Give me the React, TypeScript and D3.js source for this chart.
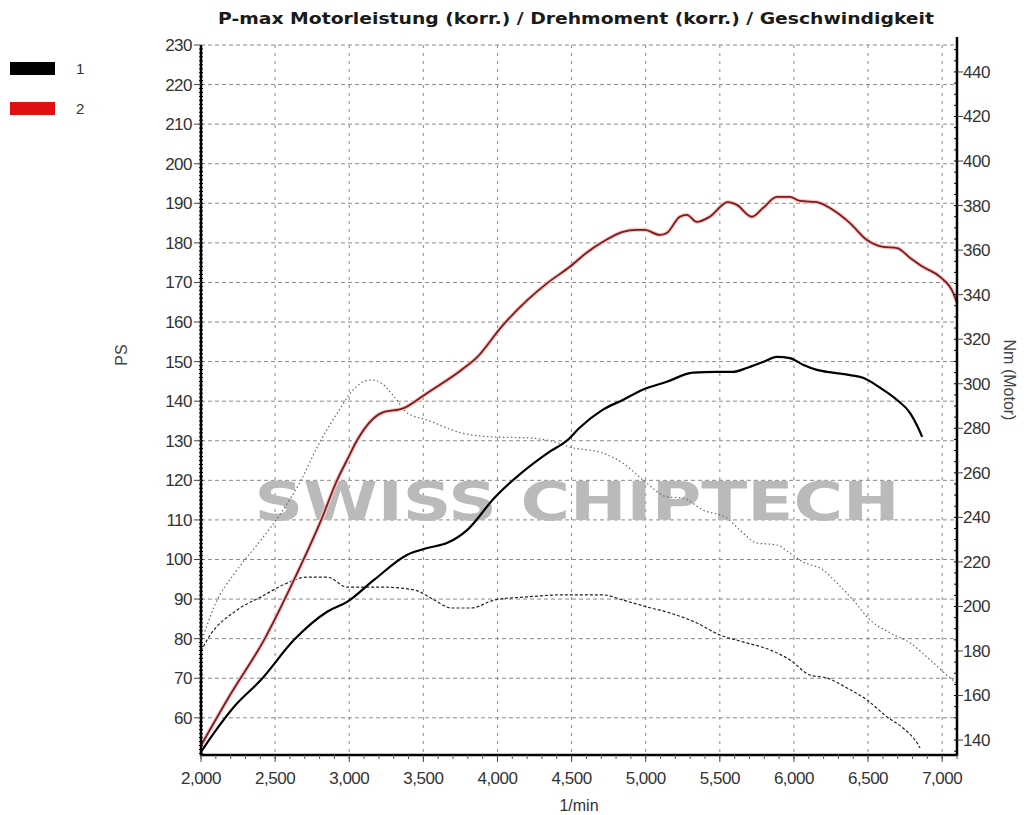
import React from 'react';
import * as d3 from 'd3';

// x axis / tick labels
const rpmTicks = [2000, 2500, 3000, 3500, 4000, 4500, 5000, 5500, 6000, 6500, 7000];
const psTicks = [60, 70, 80, 90, 100, 110, 120, 130, 140, 150, 160, 170, 180, 190, 200, 210, 220, 230];
const nmTicks = [140, 160, 180, 200, 220, 240, 260, 280, 300, 320, 340, 360, 380, 400, 420, 440];
const legendNames = ['1', '2'];

// run 1 (black) power, PS
const powerRpm1 = [2000, 2088, 2223, 2405, 2628, 2851, 2986, 3169, 3392, 3527, 3662, 3797, 3980, 4162, 4338, 4473, 4554, 4709, 4845, 4980, 5142, 5318, 5480, 5588, 5682, 5791, 5885, 5973, 6061, 6155, 6264, 6378, 6466, 6581, 6696, 6784, 6838, 6865];
const power1 = [51.4, 56.2, 62.8, 69.6, 79.7, 86.8, 89.3, 94.9, 101.2, 102.9, 104.2, 107.5, 115.6, 121.9, 126.9, 130.2, 133.3, 137.8, 140.3, 142.9, 144.9, 147.2, 147.4, 147.4, 148.4, 149.9, 151.2, 150.9, 149.2, 147.9, 147.2, 146.6, 145.9, 143.4, 140.3, 137, 133.3, 131];

// run 2 (red) power, PS
const powerRpm2 = [2000, 2200, 2426, 2628, 2811, 2919, 2986, 3054, 3216, 3372, 3527, 3757, 3865, 4027, 4203, 4338, 4486, 4601, 4709, 4845, 4939, 4993, 5095, 5142, 5230, 5277, 5345, 5432, 5554, 5615, 5716, 5791, 5885, 5973, 6041, 6155, 6264, 6378, 6493, 6601, 6696, 6784, 6872, 6986, 7074, 7100];
const power2 = [53, 66, 79.7, 94.9, 110, 120.1, 125.2, 130.2, 137, 138.3, 142.1, 147.9, 151.2, 158.8, 165.6, 169.9, 173.9, 177.5, 180.2, 182.8, 183.3, 183.3, 182, 182.5, 186.6, 187.1, 185.3, 186.6, 190.3, 189.6, 186.6, 188.8, 191.6, 191.6, 190.6, 190.3, 188.3, 185, 180.7, 179, 178.7, 176.2, 173.9, 171.4, 167.4, 164.8];

// run 1 torque, Nm (dashed)
const torqueRpm1 = [2000, 2041, 2243, 2405, 2581, 2716, 2851, 2986, 3216, 3439, 3574, 3689, 3824, 3980, 4203, 4432, 4709, 4845, 5007, 5162, 5345, 5500, 5655, 5838, 5973, 6108, 6223, 6358, 6493, 6628, 6736, 6831, 6851];
const torque1 = [180, 185, 198.4, 204.3, 210.5, 213.2, 213.2, 208.7, 208.7, 207.4, 202.9, 199.3, 199.3, 202.9, 204.3, 205.2, 205.2, 202.9, 199.8, 197.1, 192.6, 187.2, 184.1, 180.5, 176, 169.2, 167.9, 163.4, 158, 150.4, 145.4, 138.7, 136.5];

// run 2 torque, Nm (dotted)
const torqueRpm2 = [2000, 2088, 2243, 2405, 2540, 2676, 2784, 2946, 3014, 3149, 3216, 3304, 3392, 3527, 3757, 3980, 4203, 4385, 4486, 4709, 4845, 5007, 5142, 5250, 5385, 5547, 5635, 5750, 5885, 5973, 6061, 6196, 6291, 6399, 6514, 6649, 6784, 6919, 7054, 7100];
const torque2 = [183.6, 199.8, 216.4, 229.9, 242, 256.8, 271.6, 289.6, 296.3, 301.7, 300.3, 294.1, 286.9, 283.7, 277.9, 276.1, 275.7, 273.9, 271.6, 268.9, 264.4, 255.4, 249.2, 248.7, 243.3, 239.7, 234.3, 228.5, 227.6, 224, 220, 216.4, 210.5, 202.9, 193.9, 188.1, 183.6, 176, 167.9, 165.5];

const W = 1028;
const H = 815;
const left = 201;
const right = 957;
const top = 45;
const bottom = 755;
const FONT = "'Liberation Sans', Arial, sans-serif";

export default function App() {
  const x = d3.scaleLinear().domain([2000, 7100]).range([left, right]);
  const yPS = d3.scaleLinear().domain([50.6, 230]).range([bottom, top]);
  const yNm = d3.scaleLinear().domain([133.3, 452.1]).range([bottom, top]);

  const lineOf = (rpm: number[], vals: number[], y: d3.ScaleLinear<number, number>) =>
    d3.line<number>()
      .x((_, i) => x(rpm[i]))
      .y(v => y(v))
      .curve(d3.curveMonotoneX)(vals) || '';

  const minorRpm = d3.range(2000, 7101, 100);
  const minorPS = d3.range(51, 230, 1);
  const minorNm = d3.range(135, 452, 5);

  return (
    <svg width={W} height={H} style={{ position: 'absolute', left: 0, top: 0, background: '#fff' }} fontFamily={FONT}>
      {/* title */}
      <text x={576} y={24} textAnchor="middle" fontSize={15.5} fontWeight="bold" fill="#1a1a1a"
        textLength={716} lengthAdjust="spacingAndGlyphs" fontFamily="'DejaVu Sans', sans-serif">
        P-max Motorleistung (korr.) / Drehmoment (korr.) / Geschwindigkeit
      </text>

      {/* legend */}
      <rect x={10} y={62} width={45} height={13} fill="#000" />
      <rect x={10} y={102} width={45} height={13} fill="#e01010" />
      <text x={76} y={74} fontSize={15} fill="#333">{legendNames[0]}</text>
      <text x={76} y={114} fontSize={15} fill="#333">{legendNames[1]}</text>

      {/* grid */}
      {psTicks.map(t => (
        <line key={'gh' + t} x1={left} x2={right} y1={yPS(t)} y2={yPS(t)}
          stroke="#8a8a8a" strokeWidth={1} strokeDasharray="4 3" />
      ))}
      {rpmTicks.slice(1).map(t => (
        <line key={'gv' + t} x1={x(t)} x2={x(t)} y1={top} y2={bottom}
          stroke="#8a8a8a" strokeWidth={1} strokeDasharray="3 5" />
      ))}

      {/* watermark */}
      <text x={577} y={520} textAnchor="middle" fontSize={54} fontWeight="bold" fill="#bababa"
        textLength={645} lengthAdjust="spacingAndGlyphs" fontFamily="'DejaVu Sans', sans-serif">
        SWISS CHIPTECH
      </text>

      {/* torque curves */}
      <path d={lineOf(torqueRpm2, torque2, yNm)} fill="none" stroke="#666" strokeWidth={1.2} strokeDasharray="1.5 2.5" />
      <path d={lineOf(torqueRpm1, torque1, yNm)} fill="none" stroke="#222" strokeWidth={1.2} strokeDasharray="3 2" />

      {/* power curves */}
      <path d={lineOf(powerRpm2, power2, yPS)} fill="none" stroke="#f5c6c6" strokeWidth={4} />
      <path d={lineOf(powerRpm2, power2, yPS)} fill="none" stroke="#7e1a1a" strokeWidth={1.8} />
      <path d={lineOf(powerRpm1, power1, yPS)} fill="none" stroke="#000" strokeWidth={2.2} />

      {/* axes */}
      <line x1={left} x2={left} y1={top} y2={bottom + 1} stroke="#000" strokeWidth={2.5} />
      <line x1={left} x2={right + 1} y1={bottom} y2={bottom} stroke="#000" strokeWidth={2.5} />
      <line x1={right} x2={right} y1={top - 8} y2={bottom + 1} stroke="#000" strokeWidth={2.5} />

      {/* left ticks */}
      {minorPS.map(t => (
        <line key={'mp' + t} x1={left - 2} x2={left + 2} y1={yPS(t)} y2={yPS(t)} stroke="#000" strokeWidth={1} />
      ))}
      {psTicks.map(t => (
        <g key={'lp' + t}>
          <line x1={left - 7} x2={left} y1={yPS(t)} y2={yPS(t)} stroke="#444" strokeWidth={1} />
          <text x={left - 9} y={yPS(t)} dy="0.35em" textAnchor="end" fontSize={17} fill="#333" letterSpacing={-0.5}>{t}</text>
        </g>
      ))}

      {/* right ticks */}
      {minorNm.map(t => (
        <line key={'mn' + t} x1={right - 3} x2={right} y1={yNm(t)} y2={yNm(t)} stroke="#000" strokeWidth={1} />
      ))}
      {nmTicks.map(t => (
        <g key={'rn' + t}>
          <line x1={right} x2={right + 6} y1={yNm(t)} y2={yNm(t)} stroke="#444" strokeWidth={1} />
          <text x={right + 6} y={yNm(t)} dy="0.35em" textAnchor="start" fontSize={17} fill="#333" letterSpacing={-0.5}>{t}</text>
        </g>
      ))}

      {/* bottom ticks */}
      {minorRpm.map(t => (
        <line key={'mr' + t} x1={x(t)} x2={x(t)} y1={bottom} y2={bottom + 4} stroke="#555" strokeWidth={1} />
      ))}
      {rpmTicks.map(t => (
        <g key={'br' + t}>
          <line x1={x(t)} x2={x(t)} y1={bottom} y2={bottom + 7} stroke="#444" strokeWidth={1} />
          <text x={x(t)} y={784} textAnchor="middle" fontSize={17} fill="#333" letterSpacing={-0.5}>
            {d3.format(',')(t)}
          </text>
        </g>
      ))}

      {/* axis titles */}
      <text transform="translate(127,355) rotate(-90)" textAnchor="middle" fontSize={16} fill="#444">PS</text>
      <text transform="translate(1004,380) rotate(90)" textAnchor="middle" fontSize={16} fill="#444">Nm (Motor)</text>
      <text x={579} y={811} textAnchor="middle" fontSize={16} fill="#333">1/min</text>
    </svg>
  );
}
